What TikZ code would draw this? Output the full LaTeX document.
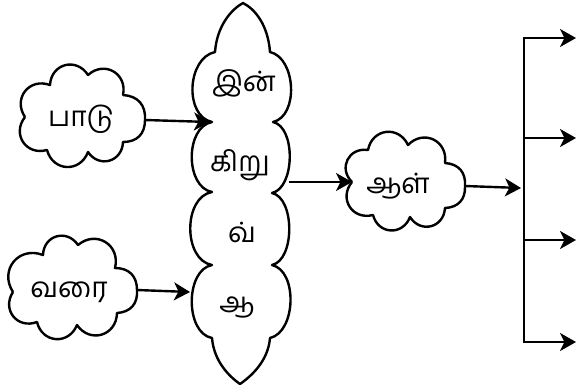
\documentclass[tikz,border=0pt]{standalone}
\usepackage{fontspec}
\newfontfamily\tamil[Script=Tamil]{Hind Madurai}
\usetikzlibrary{arrows.meta}
\begin{document}
\begin{tikzpicture}[x=1pt,y=-1pt, line width=2.4pt, line join=round,
  puff/.style={bend left=72,looseness=1.4},
  tipc/.style={bend left=45,looseness=1.15},
  arr/.style={-{Stealth[length=16pt,width=18pt,inset=4.5pt]}},
  lbl/.style={font=\tamil\fontsize{28}{32}\selectfont, inner sep=0pt}]
\useasboundingbox (0,0) rectangle (577,389);

% cloud padu
\coordinate (pT) at (145,120);
\draw (25,117) to[puff] (50,85) to[puff] (88,75) to[puff] (123,95) to[tipc] (pT)
  to[tipc] (123,142) to[puff] (88,152) to[puff] (47,150) to[puff] (25,117);

% cloud varai
\coordinate (vT) at (137,290);
\draw (13,292) to[puff] (43,255) to[puff] (78,245) to[puff] (115,268) to[tipc] (vT)
  to[tipc] (117,313) to[puff] (77,325) to[puff] (37,322) to[puff] (13,292);

% cloud aal
\coordinate (aL) at (352,182);
\coordinate (aT) at (465,186);
\draw (aL) to[puff] (368,150) to[puff] (408,145) to[puff] (445,163) to[tipc] (aT)
  to[tipc] (445,208) to[puff] (410,217) to[puff] (373,215) to[puff] (aL);

% column
\draw (243,3) .. controls (232,9) and (217,25) .. (215,52)
  .. controls +(-28,6) and +(-28,-6) .. (212,122)
  .. controls +(-27,5) and +(-27,-5) .. (212,192)
  .. controls +(-29,5) and +(-29,-5) .. (212,265)
  .. controls +(-27,5) and +(-27,-5) .. (212,338)
  .. controls (214,362) and (230,377) .. (240,384)
  .. controls (250,377) and (268,362) .. (270,338)
  .. controls +(26,-6) and +(26,6) .. (272,265)
  .. controls +(23,-5) and +(23,5) .. (272,193)
  .. controls +(23,-5) and +(23,5) .. (273,122)
  .. controls +(26,-6) and +(26,6) .. (270,52)
  .. controls (268,25) and (255,9) .. (243,3) -- cycle;

% labels
\node[lbl] (tpadu) at (81,119) {பாடு};
\node[lbl] (tvarai) at (69,292) {வரை};
\node[lbl] (taal) at (398,186) {ஆள்};
\node[lbl] (tin) at (244,83) {இன்};
\node[lbl] (tkiru) at (240,165) {கிறு};
\node[lbl] (tv) at (242,232) {வ்};
\node[lbl] (taa) at (237,307) {ஆ};

% connectors
\coordinate (cL1) at (210,122);
\coordinate (cL4) at (190,292);
\coordinate (cR2) at (289,182);
\coordinate (bM) at (521,188);
\draw[arr] (pT) -- (cL1);
\draw[arr] (vT) -- (cL4);
\draw[arr] (cR2) -- (aL);
\draw[arr] (aT) -- (bM);

% bracket
\coordinate (b1) at (524,38);
\coordinate (b2) at (524,138);
\coordinate (b3) at (524,240);
\coordinate (b4) at (524,342);
\coordinate (e1) at (576,38);
\coordinate (e2) at (576,138);
\coordinate (e3) at (576,240);
\coordinate (e4) at (576,342);
\draw[line cap=rect] (b1) -- (b4);
\draw[arr] (b1) -- (e1);
\draw[arr] (b2) -- (e2);
\draw[arr] (b3) -- (e3);
\draw[arr] (b4) -- (e4);
\end{tikzpicture}
\end{document}
